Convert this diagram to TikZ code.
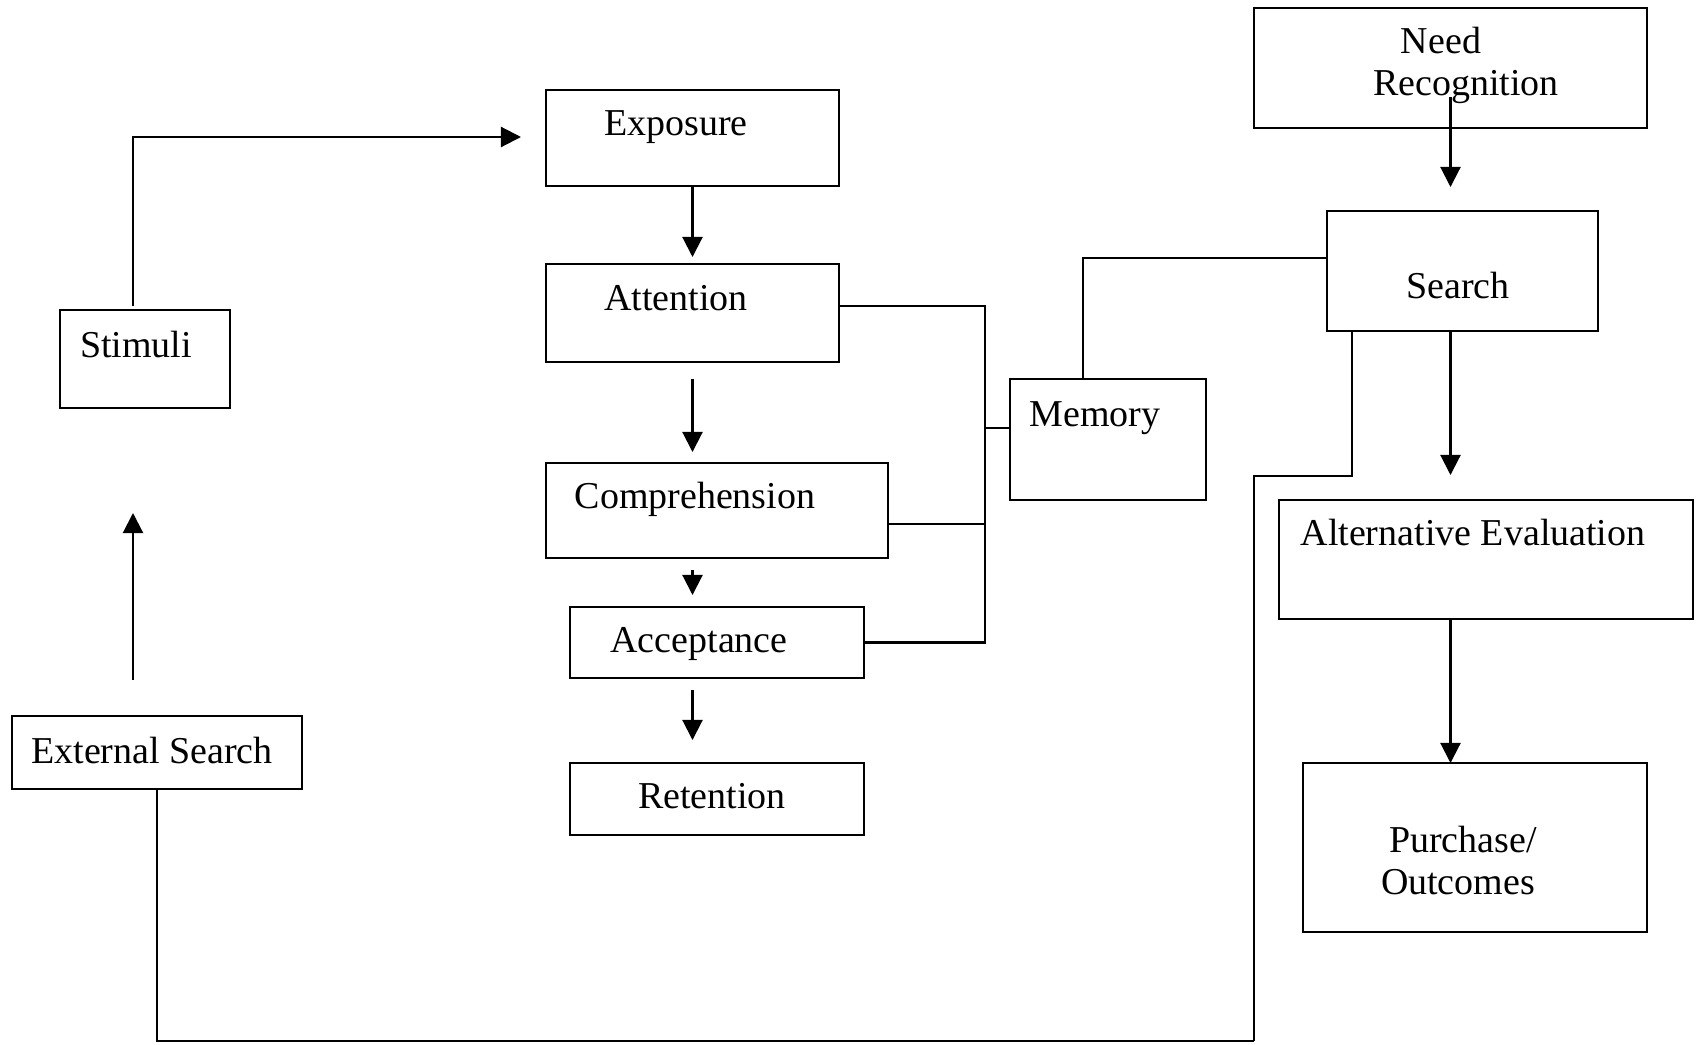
\documentclass[tikz,border=0pt]{standalone}
\usepackage{fontspec}
\setmainfont{Liberation Serif}
\usetikzlibrary{arrows.meta, positioning, calc}

\begin{document}
\begin{tikzpicture}[
  x=0.01cm, y=-0.01cm,
  line width=0.6pt,
  box/.style={rectangle, draw, inner sep=0pt, outer sep=0pt},
  lbl/.style={anchor=base, inner sep=0pt, font=\fontsize{10.8}{13}\selectfont},
  arr/.style={-{Triangle[length=5.7pt, width=5.7pt]}}
]
  \useasboundingbox (0,0) rectangle (1696,1045);

  % Boxes
  \foreach \n/\x/\y/\w/\h in {needrec/1450.5/68/393/120, expo/692.5/138/293/96,
      atten/692.5/313/293/98, compr/717/510.5/342/95, accept/717/642.5/294/71,
      retent/717/799/294/72, stimuli/145/359/170/98, extsearch/157/752.5/290/73,
      memory/1108/439.5/196/121, search/1462.5/271/271/120,
      alteval/1486/559.5/414/119, purchase/1475/847.5/344/169} {
    \node[box, minimum width=\w*0.01cm, minimum height=\h*0.01cm] (\n) at (\x,\y) {};
  }

  % Labels
  \foreach \n/\x/\y/\t in {needrec-a/1441/53/Need, needrec-b/1466/95/Recognition,
      expo-t/676/135/Exposure, atten-t/676/310/Attention,
      compr-t/695/508/Comprehension, accept-t/699/652/Acceptance,
      retent-t/712/808/Retention, stimuli-t/136/357/Stimuli,
      extsearch-t/152/763/External Search, memory-t/1095/426/Memory,
      search-t/1458/298/Search, alteval-t/1473/545/Alternative Evaluation,
      purchase-a/1463/852/{Purchase/}, purchase-b/1458/894/Outcomes} {
    \node[lbl] (\n) at (\x,\y) {\t};
  }

  % Arrows
  \draw[arr] ($(stimuli.north)+(-12,-4)$) |- ($(expo.west)+(-25,-1)$);
  \draw[arr] (expo.south) -- ($(atten.north)+(0,-7)$);
  \draw[arr] ($(atten.south)+(0,17)$) -- ($(atten.south |- compr.north)+(0,-11)$);
  \draw[arr] ($(atten.south |- compr.south)+(0,12)$) -- ($(atten.south |- accept.north)+(0,-12)$);
  \draw[arr] ($(atten.south |- accept.south)+(0,12)$) -- ($(atten.south |- retent.north)+(0,-23)$);
  \draw[arr] ($(extsearch.north)+(-24,-36)$) -- ($(stimuli.south)+(-12,105)$);
  \draw[arr] ($(needrec.south)+(0,-31)$) -- ($(needrec.south |- search.north)+(0,-24)$);
  \draw[arr] (needrec.south |- search.south) -- ($(needrec.south |- alteval.north)+(0,-25)$);
  \draw[arr] (needrec.south |- alteval.south) -- (needrec.south |- purchase.north);

  % Links to memory
  \draw ($(atten.east)+(0,-7)$) -| ($(accept.east)+(121,0)$) -- (accept.east);
  \draw ($(compr.east)+(0,13.5)$) -- ++(97,0);
  \draw ($(memory.west)+(0,-11.5)$) -- ++(-25,0);
  \draw ($(search.west)+(0,-13)$) -| ($(memory.north)+(-25,0)$);

  % Loop back to external search
  \coordinate (loop) at (1254,1041);
  \draw ($(search.south west)+(25,0)$) -- ++(0,145) -| (loop);
  \draw (extsearch.south) |- (loop);
\end{tikzpicture}
\end{document}
